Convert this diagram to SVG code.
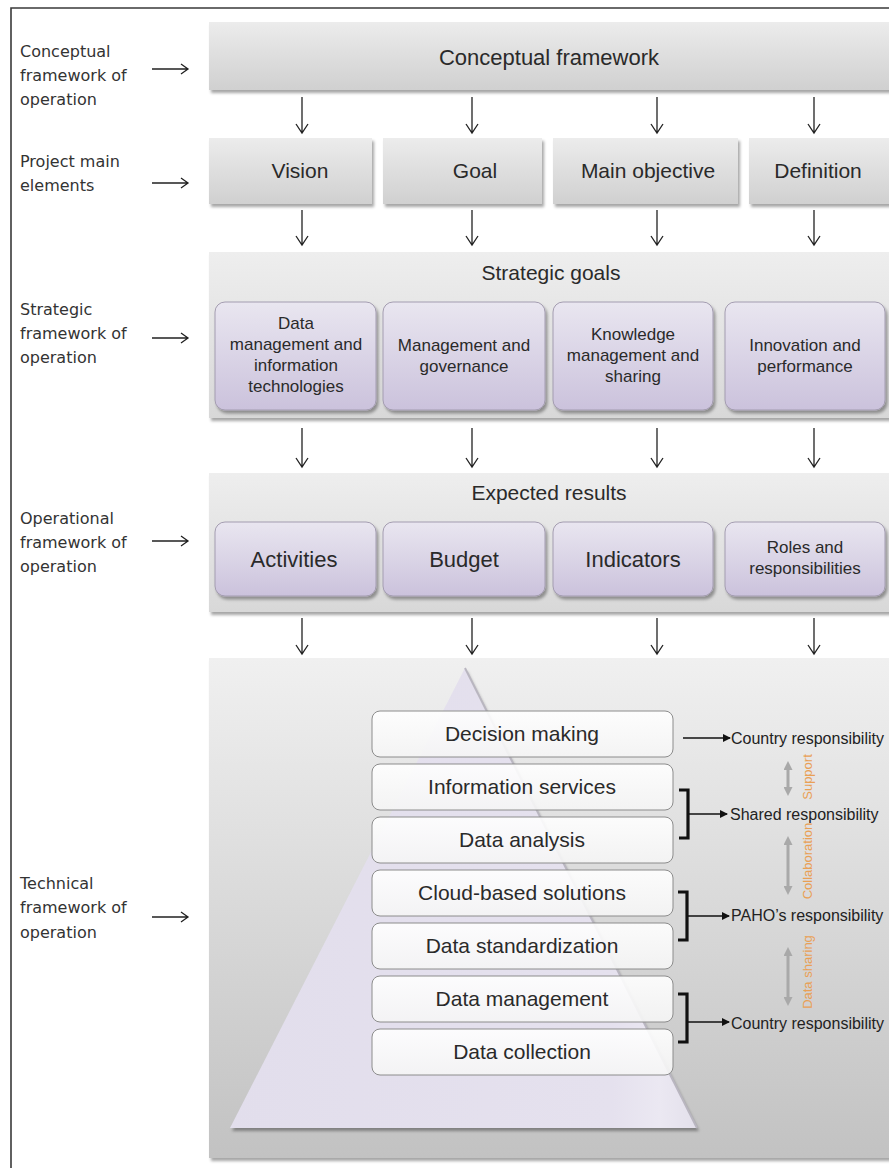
<svg xmlns="http://www.w3.org/2000/svg" width="889" height="1168" viewBox="0 0 889 1168">
  <style>
    .lbl { font-family: "DejaVu Sans", "Liberation Sans", sans-serif; font-size: 16px; fill: #333; }
    .t { font-family: "Liberation Sans", Arial, sans-serif; fill: #2a2a2a; text-anchor: middle; }
    .big { font-size: 22px; }
    .mid { font-size: 21px; }
    .sm { font-size: 17px; }
    .resp { font-family: "Liberation Sans", Arial, sans-serif; font-size: 16px; fill: #222; }
    .side { font-family: "Liberation Sans", Arial, sans-serif; font-size: 13px; fill: #e9a055; text-anchor: middle; }
    .arr { fill: none; stroke: #222; stroke-width: 1.3; }
    .brk { fill: none; stroke: #111; stroke-width: 3.2; }
    .rl { fill: none; stroke: #111; stroke-width: 1.4; }
    .dbl { fill: none; stroke: #a9a9a9; stroke-width: 3; }
    .gbox { fill: url(#gGray); filter: url(#sh); }
    .pbox { fill: url(#gPurple); stroke: #a39cb0; stroke-width: 1; filter: url(#sh); }
    .wbox { fill: url(#gWhite); fill-opacity: 0.9; stroke: #8c8c8c; stroke-width: 1; }
  </style>
  <defs>
    <linearGradient id="gGray" x1="0" y1="0" x2="0" y2="1">
      <stop offset="0" stop-color="#ececec"/>
      <stop offset="1" stop-color="#d0d0d0"/>
    </linearGradient>
    <linearGradient id="gPanel" x1="0" y1="0" x2="0" y2="1">
      <stop offset="0" stop-color="#eeeeee"/>
      <stop offset="1" stop-color="#d8d8d8"/>
    </linearGradient>
    <linearGradient id="gTech" x1="0" y1="0" x2="0" y2="1">
      <stop offset="0" stop-color="#f0f0f0"/>
      <stop offset="1" stop-color="#c2c2c2"/>
    </linearGradient>
    <linearGradient id="gPurple" x1="0" y1="0" x2="0" y2="1">
      <stop offset="0" stop-color="#e9e6f0"/>
      <stop offset="1" stop-color="#cbc2dc"/>
    </linearGradient>
    <linearGradient id="gWhite" x1="0" y1="0" x2="0" y2="1">
      <stop offset="0" stop-color="#ffffff"/>
      <stop offset="1" stop-color="#f5f5f5"/>
    </linearGradient>
    <linearGradient id="gPyr" x1="0" y1="0" x2="1" y2="0">
      <stop offset="0" stop-color="#e2deec"/>
      <stop offset="0.82" stop-color="#e5e1ee"/>
      <stop offset="0.92" stop-color="#ebe8f2"/>
      <stop offset="1" stop-color="#e3e0eb"/>
    </linearGradient>
    <filter id="sh" x="-5%" y="-10%" width="115%" height="130%">
      <feDropShadow dx="2" dy="3" stdDeviation="1.6" flood-color="#000" flood-opacity="0.35"/>
    </filter>
    <marker id="tri" markerWidth="8" markerHeight="8" refX="7" refY="4" orient="auto" markerUnits="userSpaceOnUse">
      <path d="M0 0 L8 4 L0 8 Z" fill="#111"/>
    </marker>
    <marker id="gtri" markerWidth="9" markerHeight="9" refX="5" refY="4.5" orient="auto-start-reverse" markerUnits="userSpaceOnUse">
      <path d="M0 0 L9 4.5 L0 9 Z" fill="#a9a9a9"/>
    </marker>
  </defs>

  <rect x="0" y="0" width="889" height="1168" fill="#fff"/>

  <!-- outer frame (top and left edges) -->
  <path d="M11 1168 V8 H889" fill="none" stroke="#3a3a3a" stroke-width="1.6"/>

  <!-- side labels -->
  <g id="labels">
    <text class="lbl" x="20" y="57">Conceptual</text>
    <text class="lbl" x="20" y="81">framework of</text>
    <text class="lbl" x="20" y="105">operation</text>
    <text class="lbl" x="20" y="167">Project main</text>
    <text class="lbl" x="20" y="191">elements</text>
    <text class="lbl" x="20" y="315">Strategic</text>
    <text class="lbl" x="20" y="339">framework of</text>
    <text class="lbl" x="20" y="363">operation</text>
    <text class="lbl" x="20" y="524">Operational</text>
    <text class="lbl" x="20" y="548">framework of</text>
    <text class="lbl" x="20" y="572">operation</text>
    <text class="lbl" x="20" y="889">Technical</text>
    <text class="lbl" x="20" y="913">framework of</text>
    <text class="lbl" x="20" y="938">operation</text>
  </g>

  <!-- conceptual framework -->
  <g id="conceptual">
    <rect class="gbox" x="209" y="22" width="690" height="68"/>
    <text class="t big" x="549" y="65">Conceptual framework</text>
  </g>

  <!-- project main elements -->
  <g id="vision">
    <rect class="gbox" x="209" y="138" width="163" height="66"/>
    <text class="t mid" x="300" y="178">Vision</text>
  </g>
  <g id="goal">
    <rect class="gbox" x="383" y="138" width="159" height="66"/>
    <text class="t mid" x="475" y="178">Goal</text>
  </g>
  <g id="main-objective">
    <rect class="gbox" x="553" y="138" width="185" height="66"/>
    <text class="t mid" x="648" y="178">Main objective</text>
  </g>
  <g id="definition">
    <rect class="gbox" x="749" y="138" width="150" height="66"/>
    <text class="t mid" x="818" y="178">Definition</text>
  </g>

  <!-- strategic goals -->
  <g id="strategic">
    <rect x="209" y="252" width="690" height="166" fill="url(#gPanel)" filter="url(#sh)"/>
    <text class="t mid" x="551" y="280">Strategic goals</text>
  </g>
  <g id="sg-data">
    <rect class="pbox" x="215" y="302" width="161" height="108" rx="10"/>
    <text class="t sm" x="296" y="329">Data</text>
    <text class="t sm" x="296" y="350">management and</text>
    <text class="t sm" x="296" y="371">information</text>
    <text class="t sm" x="296" y="392">technologies</text>
  </g>
  <g id="sg-management">
    <rect class="pbox" x="383" y="302" width="162" height="108" rx="10"/>
    <text class="t sm" x="464" y="351">Management and</text>
    <text class="t sm" x="464" y="372">governance</text>
  </g>
  <g id="sg-knowledge">
    <rect class="pbox" x="553" y="302" width="160" height="108" rx="10"/>
    <text class="t sm" x="633" y="340">Knowledge</text>
    <text class="t sm" x="633" y="361">management and</text>
    <text class="t sm" x="633" y="382">sharing</text>
  </g>
  <g id="sg-innovation">
    <rect class="pbox" x="725" y="302" width="160" height="108" rx="10"/>
    <text class="t sm" x="805" y="351">Innovation and</text>
    <text class="t sm" x="805" y="372">performance</text>
  </g>

  <!-- expected results -->
  <g id="operational">
    <rect x="209" y="473" width="690" height="139" fill="url(#gPanel)" filter="url(#sh)"/>
    <text class="t mid" x="549" y="500">Expected results</text>
  </g>
  <g id="er-activities">
    <rect class="pbox" x="215" y="522" width="161" height="74" rx="10"/>
    <text class="t big" x="294" y="567">Activities</text>
  </g>
  <g id="er-budget">
    <rect class="pbox" x="383" y="522" width="162" height="74" rx="10"/>
    <text class="t big" x="464" y="567">Budget</text>
  </g>
  <g id="er-indicators">
    <rect class="pbox" x="553" y="522" width="160" height="74" rx="10"/>
    <text class="t big" x="633" y="567">Indicators</text>
  </g>
  <g id="er-roles">
    <rect class="pbox" x="725" y="522" width="160" height="74" rx="10"/>
    <text class="t sm" x="805" y="553">Roles and</text>
    <text class="t sm" x="805" y="574">responsibilities</text>
  </g>

  <!-- technical framework with pyramid -->
  <g id="technical">
    <rect x="209" y="658" width="690" height="500" fill="url(#gTech)" filter="url(#sh)"/>
    <polygon points="465,668 697,1128 230,1128" fill="url(#gPyr)" filter="url(#sh)"/>
    <line x1="465" y1="668" x2="697" y2="1128" stroke="#b9b6c0" stroke-width="2"/>
  </g>
  <g id="decision-making">
    <rect class="wbox" x="372" y="711" width="301" height="46" rx="8"/>
    <text class="t mid" x="522" y="741">Decision making</text>
  </g>
  <g id="information-services">
    <rect class="wbox" x="372" y="764" width="301" height="46" rx="8"/>
    <text class="t mid" x="522" y="794">Information services</text>
  </g>
  <g id="data-analysis">
    <rect class="wbox" x="372" y="817" width="301" height="46" rx="8"/>
    <text class="t mid" x="522" y="847">Data analysis</text>
  </g>
  <g id="cloud-based">
    <rect class="wbox" x="372" y="870" width="301" height="46" rx="8"/>
    <text class="t mid" x="522" y="900">Cloud-based solutions</text>
  </g>
  <g id="data-standardization">
    <rect class="wbox" x="372" y="923" width="301" height="46" rx="8"/>
    <text class="t mid" x="522" y="953">Data standardization</text>
  </g>
  <g id="data-management">
    <rect class="wbox" x="372" y="976" width="301" height="46" rx="8"/>
    <text class="t mid" x="522" y="1006">Data management</text>
  </g>
  <g id="data-collection">
    <rect class="wbox" x="372" y="1029" width="301" height="46" rx="8"/>
    <text class="t mid" x="522" y="1059">Data collection</text>
  </g>

  <!-- responsibilities -->
  <g id="responsibilities">
    <text class="resp" x="731" y="744">Country responsibility</text>
    <text class="resp" x="730" y="820">Shared responsibility</text>
    <text class="resp" x="731" y="921">PAHO’s responsibility</text>
    <text class="resp" x="731" y="1029">Country responsibility</text>
    <text class="side" transform="translate(812 777) rotate(-90)">Support</text>
    <text class="side" transform="translate(812 861) rotate(-90)">Collaboration</text>
    <text class="side" transform="translate(812 972) rotate(-90)">Data sharing</text>
  </g>

  <!-- connectors -->
  <g id="connectors">
    <!-- side label arrows -->
    <path class="arr" d="M152 69 H188 M181 64 L188 69 L181 74"/>
    <path class="arr" d="M152 183 H188 M181 178 L188 183 L181 188"/>
    <path class="arr" d="M152 338 H188 M181 333 L188 338 L181 343"/>
    <path class="arr" d="M152 541 H188 M181 536 L188 541 L181 546"/>
    <path class="arr" d="M152 917 H188 M181 912 L188 917 L181 922"/>

    <!-- conceptual to main elements -->
    <path class="arr" d="M302 97 V133 M296 124 L302 133 L308 124"/>
    <path class="arr" d="M472 97 V133 M466 124 L472 133 L478 124"/>
    <path class="arr" d="M657 97 V133 M651 124 L657 133 L663 124"/>
    <path class="arr" d="M814 97 V133 M808 124 L814 133 L820 124"/>
    <!-- main elements to strategic goals -->
    <path class="arr" d="M302 210 V245 M296 236 L302 245 L308 236"/>
    <path class="arr" d="M472 210 V245 M466 236 L472 245 L478 236"/>
    <path class="arr" d="M657 210 V245 M651 236 L657 245 L663 236"/>
    <path class="arr" d="M814 210 V245 M808 236 L814 245 L820 236"/>
    <!-- strategic goals to expected results -->
    <path class="arr" d="M302 428 V467 M296 458 L302 467 L308 458"/>
    <path class="arr" d="M472 428 V467 M466 458 L472 467 L478 458"/>
    <path class="arr" d="M657 428 V467 M651 458 L657 467 L663 458"/>
    <path class="arr" d="M814 428 V467 M808 458 L814 467 L820 458"/>
    <!-- expected results to technical framework -->
    <path class="arr" d="M302 618 V654 M296 645 L302 654 L308 645"/>
    <path class="arr" d="M472 618 V654 M466 645 L472 654 L478 645"/>
    <path class="arr" d="M657 618 V654 M651 645 L657 654 L663 645"/>
    <path class="arr" d="M814 618 V654 M808 645 L814 654 L820 645"/>

    <!-- brackets and responsibility arrows -->
    <path class="rl" d="M683 738 H730" marker-end="url(#tri)"/>
    <path class="brk" d="M679 790 H688 V838 H679"/>
    <path class="rl" d="M688 814 H727" marker-end="url(#tri)"/>
    <path class="brk" d="M678 892 H687 V940 H678"/>
    <path class="rl" d="M687 916 H729" marker-end="url(#tri)"/>
    <path class="brk" d="M678 994 H687 V1042 H678"/>
    <path class="rl" d="M687 1022 H729" marker-end="url(#tri)"/>

    <!-- two-way gray arrows -->
    <path class="dbl" d="M788 765 V792" marker-start="url(#gtri)" marker-end="url(#gtri)"/>
    <path class="dbl" d="M788 840 V891" marker-start="url(#gtri)" marker-end="url(#gtri)"/>
    <path class="dbl" d="M788 951 V1002" marker-start="url(#gtri)" marker-end="url(#gtri)"/>
  </g>
</svg>
